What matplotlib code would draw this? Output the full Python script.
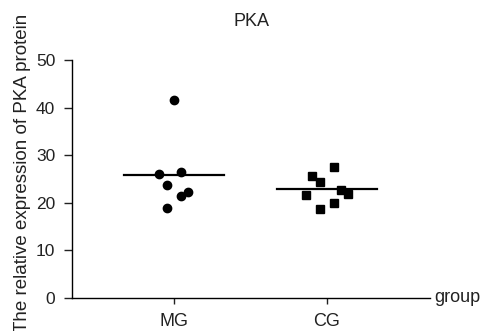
import matplotlib
matplotlib.use("Agg")
import matplotlib.pyplot as plt
import numpy as np

plt.rcParams['font.family'] = ['Liberation Sans', 'DejaVu Sans']

categories = ["MG", "CG"]
mg_values = [41.6, 26.0, 26.5, 23.7, 21.5, 22.3, 19.0]
mg_offsets = [0.0, -0.096, 0.048, -0.048, 0.046, 0.093, -0.048]
cg_values = [27.5, 25.7, 24.4, 21.6, 22.7, 21.8, 19.9, 18.8]
cg_offsets = [0.046, -0.095, -0.046, -0.14, 0.092, 0.14, 0.047, -0.046]
yticks = [0, 10, 20, 30, 40, 50]

fig = plt.figure(figsize=(4.86, 3.31), dpi=100)
ax = fig.add_axes([72/486, 33/331, 358/486, 238/331])

xs = [1, 2]
ax.plot(np.array(mg_offsets) + xs[0], mg_values, 'o', color='black', markersize=6)
ax.plot(np.array(cg_offsets) + xs[1], cg_values, 's', color='black', markersize=5.2)
for x, vals in zip(xs, [mg_values, cg_values]):
    m = np.mean(vals)
    ax.plot([x - 0.33, x + 0.33], [m, m], color='black', lw=1.6)

ax.set_xlim(1 - 102/153, 2 + 103/153)
ax.set_ylim(0, 50)
ax.set_yticks(yticks)
ax.set_xticks(xs)
ax.set_xticklabels(categories)
ax.spines['top'].set_visible(False)
ax.spines['right'].set_visible(False)
for s in ['left', 'bottom']:
    ax.spines[s].set_linewidth(1.0)
ax.tick_params(axis='y', length=5.5, width=1, labelsize=12.5, pad=6.5, colors='#222222')
ax.tick_params(axis='x', length=4.5, width=1, labelsize=13, pad=6, colors='#222222')
ax.set_title("PKA", fontsize=13, pad=24.5, color='#222222')
ax.set_ylabel("The relative expression of PKA protein", fontsize=13.5, color='#222222')
ax.yaxis.set_label_coords((31 - 72) / 358, 0.527)
ax.text(1.013, 0, "group", transform=ax.transAxes, fontsize=13, va='center', ha='left', color='#222222')

fig.savefig("out.png", dpi=100)
